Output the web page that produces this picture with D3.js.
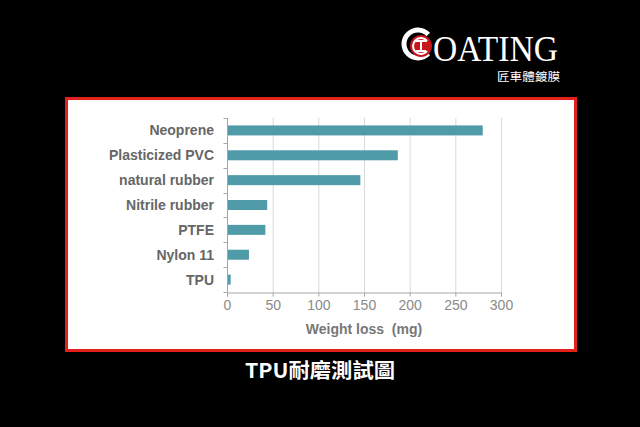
<!DOCTYPE html>
<html><head><meta charset="utf-8">
<script src="https://cdn.jsdelivr.net/npm/d3@7"></script>
<style>html,body{margin:0;padding:0;background:#000;}svg{display:block;}</style>
</head><body>
<svg id="c" width="640" height="427"></svg>
<script>
const categories = ["Neoprene","Plasticized PVC","natural rubber","Nitrile rubber","PTFE","Nylon 11","TPU"];
const values = [280, 187, 146, 44, 42, 24, 4];
const xTicks = [0, 50, 100, 150, 200, 250, 300];
const xTitle = "Weight loss  (mg)";
const caption = "TPU耐磨測試圖";
const brand = "OATING";
const brandSub = "匠車體鍍膜";

const svg = d3.select("#c");
svg.append("rect").attr("width",640).attr("height",427).attr("fill","#000");

// frame
svg.append("rect").attr("x",66.5).attr("y",98.5).attr("width",509).attr("height",252)
  .attr("fill","#fff").attr("stroke","#e3201b").attr("stroke-width",3);

const x = d3.scaleLinear().domain([0,300]).range([227,501]);
const yBand = d3.scaleBand().domain(categories).range([118,292]);

// gridlines
svg.append("g").selectAll("line").data(xTicks.slice(1)).join("line")
  .attr("x1",d=>x(d)+0.5).attr("x2",d=>x(d)+0.5).attr("y1",118).attr("y2",292)
  .attr("stroke","#d9d9d9").attr("stroke-width",1);

// bars
svg.append("g").selectAll("rect").data(values).join("rect")
  .attr("x",x(0)).attr("y",(d,i)=>yBand(categories[i])+yBand.bandwidth()/2-5)
  .attr("width",d=>x(d)-x(0)).attr("height",10).attr("fill","#4f9ba8");

// x axis
const xa = svg.append("g").attr("transform","translate(0,292.5)")
  .call(d3.axisBottom(x).tickValues(xTicks).tickSize(4).tickPadding(4));
xa.select(".domain").attr("stroke","#a6a6a6");
xa.selectAll(".tick line").attr("stroke","#a6a6a6");
xa.selectAll(".tick text").attr("fill","#8a8a8a").attr("font-family","Liberation Sans, Arial, sans-serif").attr("font-size",14);

// y axis (ticks at band boundaries)
const ya = svg.append("g").attr("transform","translate(227.5,0)");
ya.append("line").attr("x1",0).attr("x2",0).attr("y1",118).attr("y2",292).attr("stroke","#a6a6a6");
const bounds = categories.map(c=>yBand(c)).concat([292]);
ya.selectAll("line.t").data(bounds).join("line").attr("class","t")
  .attr("x1",-4).attr("x2",0).attr("y1",d=>Math.round(d)+0.5).attr("y2",d=>Math.round(d)+0.5).attr("stroke","#a6a6a6");
svg.append("g").selectAll("text").data(categories).join("text")
  .attr("x",214).attr("y",d=>yBand(d)+yBand.bandwidth()/2).attr("dy","0.36em")
  .attr("text-anchor","end").attr("fill","#666").attr("font-weight","bold")
  .attr("font-family","Liberation Sans, Arial, sans-serif").attr("font-size",14)
  .text(d=>d);

svg.append("text").attr("x",364).attr("y",334).attr("text-anchor","middle")
  .attr("fill","#777").attr("font-weight","bold").attr("font-family","Liberation Sans, Arial, sans-serif")
  .attr("font-size",14).style("white-space","pre").text(xTitle);

// caption
svg.append("text").attr("x",320).attr("y",378).attr("text-anchor","middle")
  .attr("fill","#fff").attr("font-family","Noto Sans CJK TC, sans-serif").attr("font-weight","bold")
  .attr("font-size",20).attr("textLength",150).attr("lengthAdjust","spacingAndGlyphs").text(caption);

// logo
const lg = svg.append("g");
lg.append("path").attr("d", d3.arc()({innerRadius:11.5, outerRadius:16.5, startAngle:Math.PI/2+0.75, endAngle:Math.PI/2+2*Math.PI-0.75}))
  .attr("transform","translate(418,44)").attr("fill","#fff");
lg.append("circle").attr("cx",421).attr("cy",46).attr("r",11).attr("fill","#c8161d");
lg.append("path").attr("d", d3.arc()({innerRadius:7, outerRadius:9, startAngle:Math.PI/2+0.7, endAngle:Math.PI/2+2*Math.PI-0.7}))
  .attr("transform","translate(421,46)").attr("fill","#fff");
lg.append("rect").attr("x",415).attr("y",40).attr("width",12).attr("height",2).attr("fill","#fff");
lg.append("rect").attr("x",420).attr("y",40).attr("width",2).attr("height",11).attr("fill","#fff");
lg.append("rect").attr("x",416).attr("y",50).attr("width",10).attr("height",2).attr("fill","#fff");
lg.append("text").attr("x",433).attr("y",61).attr("fill","#fff")
  .attr("font-family","Liberation Serif, DejaVu Serif, serif").attr("font-size",36)
  .attr("textLength",125).attr("lengthAdjust","spacingAndGlyphs").text(brand);
lg.append("text").attr("x",497).attr("y",81).attr("fill","#fff")
  .attr("font-family","Noto Sans CJK TC, sans-serif").attr("font-size",11.5)
  .attr("textLength",63).attr("lengthAdjust","spacingAndGlyphs").text(brandSub);
</script>
</body></html>
